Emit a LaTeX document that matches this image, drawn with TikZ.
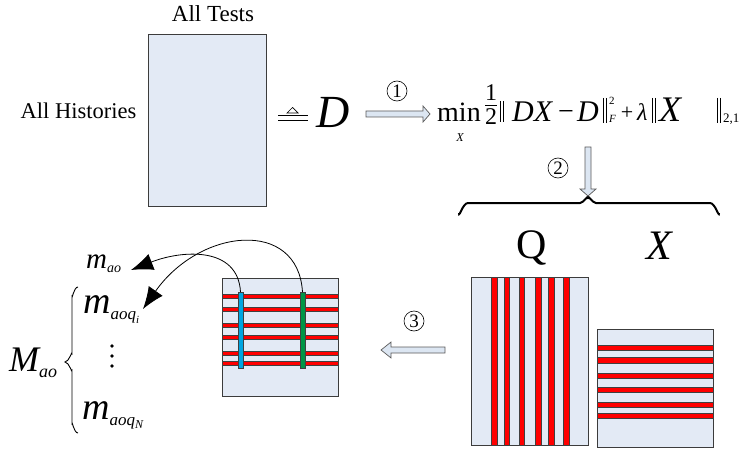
\documentclass[tikz,border=0pt]{standalone}
\usepackage{fontspec}
\setmainfont{Liberation Serif}
\usetikzlibrary{arrows.meta}
\definecolor{mfill}{RGB}{227,234,245}
\definecolor{mline}{RGB}{60,60,60}
\definecolor{stripred}{RGB}{255,0,0}
\definecolor{stripblue}{RGB}{0,165,225}
\definecolor{stripgreen}{RGB}{0,150,70}
\definecolor{afill}{RGB}{220,230,242}
\definecolor{aline}{RGB}{90,90,90}
\newcommand{\fs}[1]{\fontsize{#1}{#1}\selectfont}
\newcommand{\lowsub}[3]{\raisebox{-#2pt}{\fs{#1}\itshape #3}}
\tikzset{
  mat/.style={rectangle, fill=mfill, draw=mline, line width=0.9pt, inner sep=0pt},
  rstripe/.style={fill=stripred, draw=black!75, line width=0.5pt},
  hollow/.style={fill=afill, draw=aline, line width=0.7pt},
  circnum/.style={circle, draw, line width=0.6pt, minimum size=20pt, inner sep=0pt, font=\fs{19}},
  curvearrow/.style={line width=0.8pt, -{Latex[length=22pt,width=17pt]}},
  txt/.style={inner sep=0pt, anchor=base west},
  ctxt/.style={inner sep=0pt, anchor=base},
  norm/.style={line width=0.7pt},
}
\begin{document}
\begin{tikzpicture}[x=1pt,y=-1pt]
\useasboundingbox (0,0) rectangle (751,449);

% D matrix
\node[mat, minimum width=118pt, minimum height=172pt] (Dmat) at (207,120) {};
\node[ctxt, font=\fs{23}] (tests) at (213,21.5) {All Tests};
\node[ctxt, font=\fs{22.5}] (hist) at (78.5,119) {All Histories};

% triangleq
\draw[line width=0.8pt] (278,115.5) -- (308,115.5) (278,120) -- (308,120);
\draw[line width=0.7pt] (287,113) -- (298,113) -- (292.5,107.5) -- cycle;
\node[ctxt, font=\fs{46}\itshape] (Dlbl) at (333,128) {D};

% arrow 1
\draw[hollow] (366,111) -- (423,111) -- (423,106) -- (430,114) -- (423,122) -- (423,117) -- (366,117) -- cycle;
\node[circnum] (c1) at (397,91) {1};

% formula
\node[txt, font=\fs{28}] (fmin) at (437,122) {min};
\node[ctxt, font=\fs{12}\itshape] (fminx) at (460,142) {X};
\node[ctxt, font=\fs{24}] (fone) at (491,101) {1};
\node[ctxt, font=\fs{24}] (ftwo) at (491,125) {2};
\draw[line width=0.8pt] (485,105) -- (497,105);
\draw[norm] (500,101) -- (500,122) (503,101) -- (503,122);
\node[txt, font=\fs{30}\itshape] (fdx) at (512,122) {DX};
\node[ctxt, font=\fs{28}] (fminus) at (566,121) {−};
\node[txt, font=\fs{30}\itshape] (fd) at (577,122) {D};
\draw[norm] (603,98) -- (603,123) (606,98) -- (606,123);
\node[txt, font=\fs{11}] (fsq) at (609,105) {2};
\node[txt, font=\fs{11}\itshape] (fF) at (609,123) {F};
\node[ctxt, font=\fs{22}] (fplus) at (627,120) {+};
\node[txt, font=\fs{24}\itshape] (flam) at (637,121) {λ};
\draw[norm] (652,98) -- (652,123) (655,98) -- (655,123);
\node[txt, font=\fs{36}\itshape] (fx) at (659,122) {X};
\draw[norm] (717,98) -- (717,123) (720,98) -- (720,123);
\node[txt, font=\fs{13}] (f21) at (723,123) {2,1};

% arrow 2
\draw[hollow] (585,147) -- (591,147) -- (591,189) -- (596,189) -- (588,196) -- (580,189) -- (585,189) -- cycle;
\node[circnum] (c2) at (558,168) {2};

% top brace
\draw[line width=2pt] (459,213) to[out=270,in=180] (468,203) -- (580,203) to[out=0,in=90] (588,198)
  to[out=90,in=180] (596,203) -- (710,203) to[out=0,in=270] (719,213);

% Q and X labels
\node[ctxt, font=\fs{42}] (Qlbl) at (532,258) {Q};
\node[ctxt, font=\fs{42}\itshape] (Xlbl) at (659,259) {X};

% Q matrix
\node[mat, minimum width=117pt, minimum height=168pt] (Qmat) at (529.5,361) {};
\foreach \a/\b in {491/497,504/509,519/524,535/541,548/554,563/569}
  \draw[rstripe] (\a,277) rectangle (\b,445);

% X matrix
\node[mat, minimum width=116pt, minimum height=118pt] (Xmat) at (655,388) {};
\foreach \a/\b in {345/350,357/363,373/378,387/392,402/407,413/418}
  \draw[rstripe] (597,\a) rectangle (713,\b);

% arrow 3
\draw[hollow] (445,347) -- (391,347) -- (391,342) -- (381,350) -- (391,358) -- (391,353) -- (445,353) -- cycle;
\node[circnum] (c3) at (414,321) {3};

% left matrix
\node[mat, minimum width=116pt, minimum height=118pt] (Lmat) at (280,337) {};
\foreach \a/\b in {294/298,307/311,323/327,335/339,351/355,361/365}
  \draw[rstripe] (222,\a) rectangle (338,\b);
\draw[fill=stripblue, draw=black!75, line width=0.5pt] (238,292) rectangle (243,368);
\draw[fill=stripgreen, draw=black!75, line width=0.5pt] (300,292) rectangle (305,368);
\coordinate (btop) at (240.5,292);
\coordinate (gtop) at (302.5,292);

% labels on the left
\node[txt, font=\fs{29}\itshape] (mao) at (86,268) {m\lowsub{14}{4}{ao}};
\node[txt, font=\fs{38}\itshape] (maoqi) at (83,313) {m\lowsub{17}{6}{aoq}\lowsub{11}{10}{i}};
\node[txt, font=\fs{38}\itshape] (maoqN) at (82,419) {m\lowsub{17}{6}{aoq}\lowsub{12}{9}{N}};
\node[txt, font=\fs{36}\itshape] (Mao) at (9,371) {M\lowsub{18}{6}{ao}};
\foreach \yy in {346,356,366} \fill (112,\yy) circle (1.8pt);

% left brace
\draw[line width=0.9pt] (78,287) to[out=180,in=270] (72,296) -- (72,354) to[out=90,in=0] (65,362)
  to[out=0,in=270] (72,370) -- (72,424) to[out=90,in=180] (78,433);

\coordinate (tipa) at (131,270);
\coordinate (tipb) at (143,309);
\draw[curvearrow] (btop) .. controls (238,246) and (182,250) .. (tipa);
\draw[curvearrow] (gtop) .. controls (298,218) and (200,228) .. (tipb);
\end{tikzpicture}
\end{document}
